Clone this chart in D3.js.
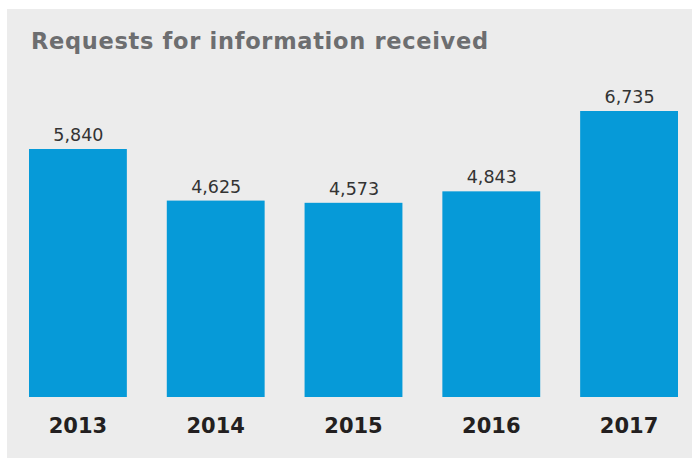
<!DOCTYPE html>
<html>
<head>
<meta charset="utf-8">
<script src="https://cdn.jsdelivr.net/npm/d3@7"></script>
<style>
  html, body { margin: 0; padding: 0; background: #ffffff; }
  svg { display: block; }
</style>
</head>
<body>
<svg id="chart" width="692" height="459"></svg>
<script>
// Requests for information received, per year
const years = ["2013", "2014", "2015", "2016", "2017"];
const requests = [5840, 4625, 4573, 4843, 6735];
const title = "Requests for information received";

const width = 692, height = 459;
const panel = { x: 7, y: 9, w: 685, h: 449 };
const plot = { left: 29, right: 678, top: 111, bottom: 397 };
const font = "'DejaVu Sans', Verdana, sans-serif";

const svg = d3.select("#chart");
const fmt = d3.format(",");

svg.append("rect")
  .attr("x", panel.x).attr("y", panel.y)
  .attr("width", panel.w).attr("height", panel.h)
  .attr("fill", "#ececec");

svg.append("text")
  .attr("x", 31).attr("y", 49)
  .attr("font-family", font)
  .attr("font-weight", "bold")
  .attr("font-size", 22.5)
  .attr("textLength", 457)
  .attr("lengthAdjust", "spacing")
  .attr("fill", "#6d6e70")
  .text(title);

const x = d3.scaleBand()
  .domain(years)
  .range([plot.left, plot.right])
  .paddingInner(40 / 138)
  .paddingOuter(0);

const y = d3.scaleLinear()
  .domain([0, d3.max(requests)])
  .range([plot.bottom, plot.top]);

const data = years.map((yr, i) => ({ year: yr, value: requests[i] }));

svg.append("g").selectAll("rect")
  .data(data)
  .join("rect")
  .attr("x", d => x(d.year))
  .attr("y", d => y(d.value))
  .attr("width", x.bandwidth())
  .attr("height", d => y(0) - y(d.value))
  .attr("fill", "#069ad8");

svg.append("g").selectAll("text")
  .data(data)
  .join("text")
  .attr("x", d => x(d.year) + x.bandwidth() / 2 + 0.5)
  .attr("y", d => y(d.value) - 8)
  .attr("text-anchor", "middle")
  .attr("font-family", font)
  .attr("font-size", 17.5)
  .attr("fill", "#333333")
  .text(d => fmt(d.value));

// Category axis: year labels only, no line or ticks
const xAxis = svg.append("g")
  .attr("transform", `translate(0,${plot.bottom})`)
  .call(d3.axisBottom(x).tickSize(0).tickPadding(21));
xAxis.select(".domain").remove();
xAxis.selectAll("text")
  .attr("font-family", font)
  .attr("font-weight", "bold")
  .attr("font-size", 21)
  .attr("fill", "#231f20");
</script>
</body>
</html>
